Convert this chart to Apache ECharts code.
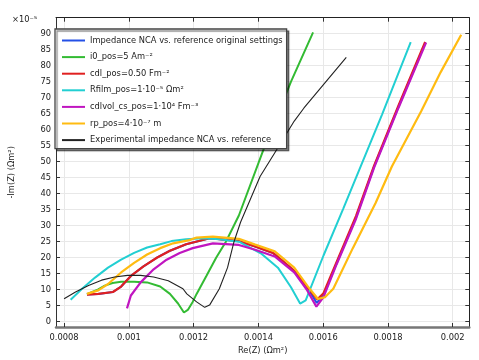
<!DOCTYPE html>
<html>
<head>
<meta charset="utf-8">
<script src="https://cdn.jsdelivr.net/npm/echarts@6/dist/echarts.min.js"></script>
<style>
html,body{margin:0;padding:0;background:#fff;}
#chart{width:479px;height:360px;}
</style>
</head>
<body>
<div id="chart"></div>
<script>
// ---- Data (Re(Z) in Ωm², -Im(Z) in units of 1e-5 Ωm²) ----
const seriesNames = [
  'Impedance NCA vs. reference original settings',
  'i0_pos=5 Am⁻²',
  'cdl_pos=0.50 Fm⁻²',
  'Rfilm_pos=1·10⁻⁵ Ωm²',
  'cdlvol_cs_pos=1·10⁴ Fm⁻³',
  'rp_pos=4·10⁻⁷ m',
  'Experimental impedance NCA vs. reference'
];
const xTickValues = [0.0008, 0.001, 0.0012, 0.0014, 0.0016, 0.0018, 0.002];
const yTickValues = [0, 5, 10, 15, 20, 25, 30, 35, 40, 45, 50, 55, 60, 65, 70, 75, 80, 85, 90];

const blueRe = [0.0008706,0.0009055,0.0009508,0.0009761,0.0010062,0.0010463,0.0010864,0.0011269,0.0011769,0.0012493,0.0013397,0.0013901,0.0014453,0.0015107,0.0015508,0.00158,0.0016011,0.0016413,0.0017016,0.001757,0.0018324,0.001916];
const blueIm = [8.4,8.6,9.2,10.9,14.2,17.3,19.9,22.1,24.1,26.0,25.1,23.4,21.4,15.8,10.7,5.8,8.2,18.1,32.5,48.3,67.0,87.2];

const greenRe = [0.0008706,0.0009055,0.0009257,0.0009499,0.0009761,0.0010162,0.0010563,0.0010967,0.0011269,0.0011519,0.00117,0.001182,0.0011971,0.0012092,0.0012393,0.0012695,0.0012996,0.0013397,0.0014151,0.0015007,0.0015689];
const greenIm = [8.5,10.0,11.2,12.0,12.4,12.4,12.2,10.9,8.6,5.6,2.8,3.6,6.1,8.6,14.2,19.9,24.9,33.1,53.5,74.9,90.3];

const redRe = [0.0008706,0.0009055,0.0009508,0.0009761,0.0010062,0.0010463,0.0010864,0.0011269,0.0011769,0.0012493,0.0013397,0.0013901,0.0014453,0.0015107,0.0015508,0.001582,0.0016011,0.0016413,0.0017016,0.001757,0.0018324,0.001915];
const redIm = [8.4,8.6,9.2,10.9,14.2,17.3,19.9,22.1,24.1,26.0,25.1,23.4,21.4,15.8,10.7,6.9,8.8,18.5,33.0,48.6,67.4,87.3];

const cyanRe = [0.0008202,0.0008555,0.0008956,0.0009357,0.0009761,0.0010162,0.0010563,0.0010967,0.0011317,0.0011769,0.0012294,0.0012794,0.0013397,0.0014103,0.0014603,0.0015007,0.0015288,0.001546,0.0016011,0.0016615,0.0017821,0.0018704];
const cyanIm = [6.8,10.2,13.7,16.8,19.3,21.4,23.1,24.1,25.1,25.7,26.0,25.7,24.9,21.1,16.8,10.7,5.6,6.6,20.6,35.1,64.7,87.3];

const magentaRe = [0.0009942,0.0010062,0.0010364,0.0010765,0.0011166,0.001157,0.0011971,0.0012595,0.0013397,0.0013901,0.0014504,0.0015107,0.0015508,0.0015791,0.0016011,0.0016413,0.0017016,0.001757,0.0018324,0.0019177];
const magentaIm = [4.1,8.1,12.2,16.3,19.3,21.4,22.9,24.4,23.9,22.4,20.3,15.3,9.7,4.6,7.6,17.8,32.1,48.0,66.7,87.1];

const orangeRe = [0.0008706,0.0009055,0.0009357,0.0009761,0.0010162,0.0010563,0.0010967,0.0011368,0.0011872,0.0012092,0.0012595,0.0013397,0.0013901,0.0014504,0.0015107,0.0015508,0.001584,0.0016063,0.0016313,0.0016916,0.0017619,0.0018122,0.0019027,0.001963,0.0020263];
const orangeIm = [8.6,9.7,11.7,15.3,18.3,20.9,22.9,24.4,25.4,26.2,26.5,25.8,24.0,21.9,16.8,11.2,7.0,7.6,10.2,22.9,37.0,48.4,65.7,77.9,89.6];

const blackRe = [0.0008,0.0008353,0.0008754,0.0009158,0.0009559,0.000996,0.0010364,0.0010765,0.0011217,0.001167,0.001179,0.0012092,0.0012342,0.0012493,0.0012794,0.0013047,0.0013247,0.0013449,0.0014052,0.0014555,0.0015107,0.0015408,0.0016714];
const blackIm = [7.1,9.2,11.2,12.9,13.9,14.4,14.4,13.9,12.7,10.2,8.6,6.1,4.4,5.1,10.2,16.8,24.9,31.0,45.3,53.5,62.6,66.7,82.5];

// ---- Build chart ----
const FONT = 'DejaVu Sans';
function zip(a, b) { return a.map((v, i) => [v, b[i]]); }
const seriesDefs = [
  { re: blueRe, im: blueIm, color: '#2450e6', width: 2 },
  { re: greenRe, im: greenIm, color: '#33bb33', width: 2 },
  { re: redRe, im: redIm, color: '#e02020', width: 2.2 },
  { re: cyanRe, im: cyanIm, color: '#22cfd2', width: 2 },
  { re: magentaRe, im: magentaIm, color: '#c015c0', width: 2.2 },
  { re: orangeRe, im: orangeIm, color: '#ffbb11', width: 2.2 },
  { re: blackRe, im: blackIm, color: '#222222', width: 1.1 }
];

const X_MIN = 0.000775, X_MAX = 0.0020513;
const Y_MIN = -1.74, Y_MAX = 94.9;

function fmtX(v) { return String(Number(v.toFixed(4))); }

const chart = echarts.init(document.getElementById('chart'), null, { renderer: 'canvas' });
chart.setOption({
  animation: false,
  backgroundColor: '#ffffff',
  grid: { left: 46, right: 9.7, top: 17.7, bottom: 26, containLabel: false },
  textStyle: { fontFamily: FONT },
  xAxis: [
    {
      type: 'value', min: X_MIN, max: X_MAX, position: 'bottom',
      name: 'Re(Z) (Ωm²)', nameLocation: 'middle', nameGap: 20,
      nameTextStyle: { fontFamily: FONT, fontSize: 8.3, color: '#222' },
      axisLine: { show: true, onZero: false, lineStyle: { color: '#777', width: 2.5 } },
      axisTick: { show: true, inside: true, length: 4, customValues: xTickValues, lineStyle: { color: '#333', width: 1 } },
      axisLabel: { show: true, customValues: xTickValues, formatter: fmtX, margin: 7, fontFamily: FONT, fontSize: 8.3, color: '#222' },
      splitLine: { show: true, lineStyle: { color: '#e8e8e8', width: 1 } }
    },
    {
      type: 'value', min: X_MIN, max: X_MAX, position: 'top',
      axisLine: { show: true, onZero: false, lineStyle: { color: '#222', width: 1 } },
      axisTick: { show: true, inside: true, length: 4, customValues: xTickValues, lineStyle: { color: '#333', width: 1 } },
      axisLabel: { show: false },
      splitLine: { show: false }
    }
  ],
  yAxis: [
    {
      type: 'value', min: Y_MIN, max: Y_MAX, position: 'left',
      name: '-Im(Z) (Ωm²)', nameLocation: 'middle', nameGap: 40, nameRotate: 90,
      nameTextStyle: { fontFamily: FONT, fontSize: 8.3, color: '#222' },
      axisLine: { show: true, onZero: false, lineStyle: { color: '#333', width: 1 } },
      axisTick: { show: true, inside: true, length: 4, customValues: yTickValues, lineStyle: { color: '#333', width: 1 } },
      axisLabel: { show: true, customValues: yTickValues, margin: 5, fontFamily: FONT, fontSize: 8.3, color: '#222' },
      splitLine: { show: true, lineStyle: { color: '#e8e8e8', width: 1 } }
    },
    {
      type: 'value', min: Y_MIN, max: Y_MAX, position: 'right',
      axisLine: { show: true, onZero: false, lineStyle: { color: '#222', width: 1 } },
      axisTick: { show: true, inside: true, length: 4, customValues: yTickValues, lineStyle: { color: '#333', width: 1 } },
      axisLabel: { show: false },
      splitLine: { show: false }
    }
  ],
  legend: {
    orient: 'vertical', left: 55, top: 29,
    padding: [6.5, 4, 3.5, 6],
    itemWidth: 23, itemHeight: 10, itemGap: 6.6,
    backgroundColor: '#ffffff', borderColor: '#444', borderWidth: 1.3,
    shadowColor: 'rgba(0,0,0,0.45)', shadowBlur: 1, shadowOffsetX: 2, shadowOffsetY: 2,
    itemStyle: { opacity: 0, borderWidth: 0 },
    textStyle: { fontFamily: FONT, fontSize: 8.3, lineHeight: 10, color: '#222' },
    data: seriesNames,
    selectedMode: false
  },
  graphic: [
    { type: 'text', left: 12, top: 16, style: { text: '×10⁻⁵', fontFamily: FONT, fontSize: 8.3, fill: '#222' } }
  ],
  series: seriesDefs.map((d, i) => ({
    name: seriesNames[i],
    type: 'line',
    xAxisIndex: 0, yAxisIndex: 0,
    data: zip(d.re, d.im),
    showSymbol: false, symbol: 'none',
    lineStyle: { color: d.color, width: d.width },
    itemStyle: { color: d.color },
    smooth: false,
    clip: true
  }))
});
</script>
</body>
</html>
